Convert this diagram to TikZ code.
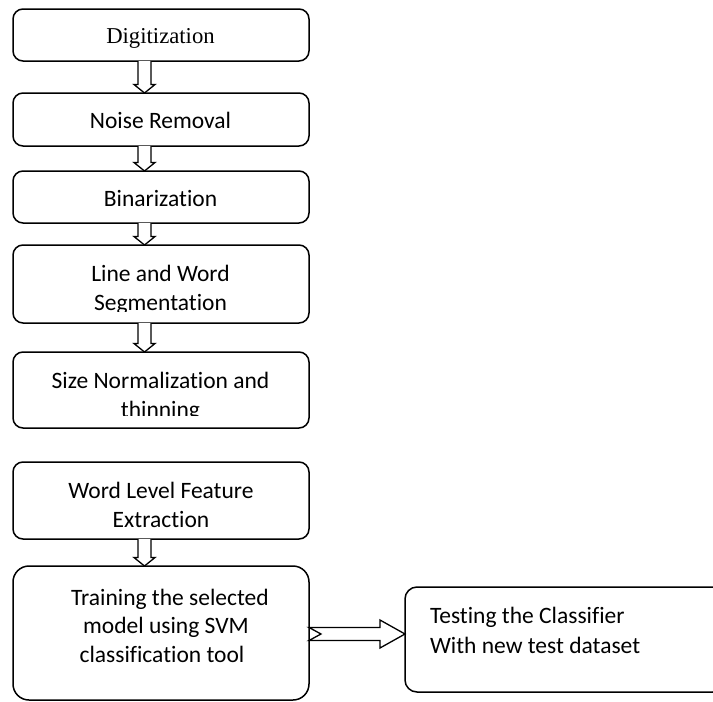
\documentclass[tikz,border=0pt]{standalone}
\usepackage{fontspec}
\setmainfont{Carlito}[Ligatures={NoCommon}]
\newfontfamily\serifface{Liberation Serif}
\usetikzlibrary{calc}
\begin{document}
\begin{tikzpicture}[x=1pt,y=-1pt,
  box/.style={draw=black,line width=1.5pt,rounded corners=10pt,fill=white,inner sep=0pt,outer sep=0pt},
  lbl/.style={anchor=base,inner sep=0pt,outer sep=0pt,font=\fontsize{23.5}{29}\selectfont},
  blockarrow/.style={draw=black,line width=1.3pt,fill=white,line join=miter}]
\useasboundingbox (0,0) rectangle (713,702);
\clip (0,0) rectangle (713,702);
% boxes
\node[box,minimum width=296pt,minimum height=52pt] (b1) at (161,35) {};
\node[box,minimum width=296pt,minimum height=53pt] (b2) at (161,119.5) {};
\node[box,minimum width=296pt,minimum height=52pt] (b3) at (161,197) {};
\node[box,minimum width=296pt,minimum height=78pt] (b4) at (161,284) {};
\node[box,minimum width=296pt,minimum height=76pt] (b5) at (161,390) {};
\node[box,minimum width=296pt,minimum height=77pt] (b6) at (161,500.5) {};
\node[box,rounded corners=16pt,minimum width=296pt,minimum height=134pt] (b7) at (161,633) {};
\node[box,rounded corners=12pt,minimum width=320pt,minimum height=105pt] (b8) at (565,639.5) {};
% labels
\node[lbl,font=\serifface\fontsize{22.7}{29}\selectfont] (t1) at (160.5,43.3) {Digitization};
\node[lbl] (t2) at (160.5,128.3) {Noise Removal};
\node[lbl] (t3) at (160.5,206) {Binarization};
\node[lbl] (t4a) at (160.5,281) {Line and Word};
\begin{scope}
\clip (20,250) rectangle (300,311);
\node[lbl] (t4b) at (160.5,310) {Segmentation};
\end{scope}
\node[lbl] (t5a) at (160.5,388) {Size Normalization and};
\begin{scope}
\clip (20,355) rectangle (300,415.5);
\node[lbl] (t5b) at (160.5,417) {thinning};
\end{scope}
\node[lbl] (t6a) at (161,498) {Word Level Feature};
\node[lbl] (t6b) at (161,527) {Extraction};
\node[lbl] (t7a) at (170,605) {Training the selected};
\node[lbl] (t7b) at (166,633) {model using SVM};
\node[lbl] (t7c) at (162,662) {classification tool};
\node[lbl,anchor=base west] (t8a) at (430,623) {Testing the Classifier};
\node[lbl,anchor=base west] (t8b) at (430,653) {With new test dataset};
% vertical block arrows
\foreach \a/\b in {b1/b2,b2/b3,b3/b4,b4/b5,b6/b7}{
  \draw[blockarrow]
    ($(\a.south)+(-23,0)$) -- ($(\b.north)+(-23,-8.5)$) -- ($(\b.north)+(-27,-8.5)$)
    -- ($(\b.north)+(-16.5,0)$) -- ($(\b.north)+(-6,-8.5)$) -- ($(\b.north)+(-10,-8.5)$)
    -- ($(\a.south)+(-10,0)$);
}
% horizontal notched block arrow
\coordinate (ay) at (0,634);
\coordinate (tail) at (b7.east |- ay);
\coordinate (tip) at (b8.west |- ay);
\draw[blockarrow]
  ($(tail)+(0,-6.5)$) -- ($(tip)+(-25,-6.5)$) -- ($(tip)+(-25,-14)$)
  -- (tip) -- ($(tip)+(-25,14)$) -- ($(tip)+(-25,6.5)$)
  -- ($(tail)+(0,6.5)$) -- ($(tail)+(12,0)$) -- cycle;
\end{tikzpicture}
\end{document}
